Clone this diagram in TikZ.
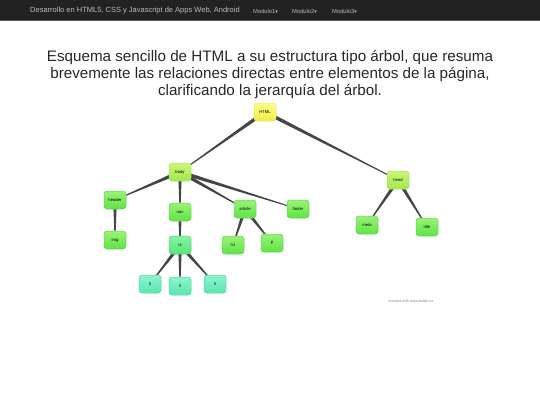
\documentclass[tikz,border=0pt]{standalone}
\usepackage{fontspec}
\setmainfont{Liberation Sans}
\newfontfamily\dv{DejaVu Sans}
\usetikzlibrary{calc,backgrounds}
\definecolor{navbg}{HTML}{222222}
\definecolor{navline}{HTML}{5A5A5A}
\definecolor{navtxt}{HTML}{BBBBBB}
\definecolor{edgecol}{HTML}{454548}
\definecolor{yelT}{HTML}{FFFF8A}
\definecolor{yelB}{HTML}{EDED4A}
\definecolor{yelD}{HTML}{E4E46A}
\definecolor{lgT}{HTML}{CCF57A}
\definecolor{lgB}{HTML}{A2E84A}
\definecolor{lgD}{HTML}{A8DC6A}
\definecolor{gT}{HTML}{99F277}
\definecolor{gB}{HTML}{5FE345}
\definecolor{gD}{HTML}{6ACF5A}
\definecolor{mT}{HTML}{88F2A2}
\definecolor{mB}{HTML}{55E57A}
\definecolor{mD}{HTML}{5ACF7A}
\definecolor{aT}{HTML}{8CF5CC}
\definecolor{aB}{HTML}{5AE5B0}
\definecolor{aD}{HTML}{5ACFA2}
\tikzset{
  tnode/.style={rectangle, rounded corners=3pt, minimum width=22pt, minimum height=18pt, inner sep=0pt, font=\fontsize{4.2}{5}\selectfont, line width=0.5pt},
  yelnode/.style={tnode, top color=yelT, bottom color=yelB, draw=yelD},
  lgnode/.style={tnode, top color=lgT, bottom color=lgB, draw=lgD},
  gnode/.style={tnode, top color=gT, bottom color=gB, draw=gD},
  mnode/.style={tnode, top color=mT, bottom color=mB, draw=mD},
  anode/.style={tnode, top color=aT, bottom color=aB, draw=aD},
  navitem/.style={text=navtxt, anchor=west, inner sep=0pt, font=\fontsize{5.8}{6}\selectfont},
}
\newcommand\taper[2]{\fill[edgecol] ($(#1)!1.9pt!90:(#2)$) -- ($(#2)!0.35pt!-90:(#1)$) -- ($(#2)!0.35pt!90:(#1)$) -- ($(#1)!1.9pt!-90:(#2)$) -- cycle;}
\begin{document}
\begin{tikzpicture}[x=1pt,y=-1pt]
\useasboundingbox (0,0) rectangle (540,405);
% navbar
\fill[navbg] (0,0) rectangle (540,21);
\fill[navline] (0,20.3) rectangle (540,21.3);
\node[navitem, font=\fontsize{7.5}{9}\selectfont] (brand) at (30,10.5) {Desarrollo en HTML5, CSS y Javascript de Apps Web, Android};
\node[navitem] (m1) at (253,11) {Modulo1{\dv\fontsize{5}{6}\selectfont ▾}};
\node[navitem] (m2) at (292,11) {Modulo2{\dv\fontsize{5}{6}\selectfont ▾}};
\node[navitem] (m3) at (332,11) {Modulo3{\dv\fontsize{5}{6}\selectfont ▾}};
% title
\node[align=center, font=\fontsize{15.2}{17.2}\selectfont, text=black!85] (ttl) at (270,74.5) {Esquema sencillo de HTML a su estructura tipo árbol, que resuma\\brevemente las relaciones directas entre elementos de la página,\\clarificando la jerarquía del árbol.};
% nodes
\node[yelnode] (html) at (265,112) {HTML};
\node[lgnode] (body) at (180,172) {body};
\node[lgnode] (head) at (398,180) {head};
\node[gnode] (header) at (115,200) {header};
\node[gnode] (nav) at (180,212) {nav};
\node[gnode] (article) at (245,209) {article};
\node[gnode] (footer) at (298,209) {footer};
\node[gnode] (img) at (115,240) {img};
\node[mnode] (ul) at (180,245) {ul};
\node[gnode] (h1) at (233,245) {h1};
\node[gnode] (p) at (272,243) {p};
\node[anode] (li1) at (150,284) {li};
\node[anode] (li2) at (180,286) {li};
\node[anode] (li3) at (215,284) {li};
\node[gnode] (meta) at (367,225) {meta};
\node[gnode] (title) at (427,227) {title};
\node[text=black!45, font=\fontsize{3.8}{4}\selectfont, inner sep=0pt] (credit) at (411,301) {created with www.bubbl.us};
% edges
\begin{scope}[on background layer]
\taper{html}{body}
\taper{html}{head}
\taper{body}{header}
\taper{body}{nav}
\taper{body}{article}
\taper{body}{footer}
\taper{header}{img}
\taper{nav}{ul}
\taper{ul}{li1}
\taper{ul}{li2}
\taper{ul}{li3}
\taper{article}{h1}
\taper{article}{p}
\taper{head}{meta}
\taper{head}{title}
\end{scope}
\end{tikzpicture}
\end{document}
